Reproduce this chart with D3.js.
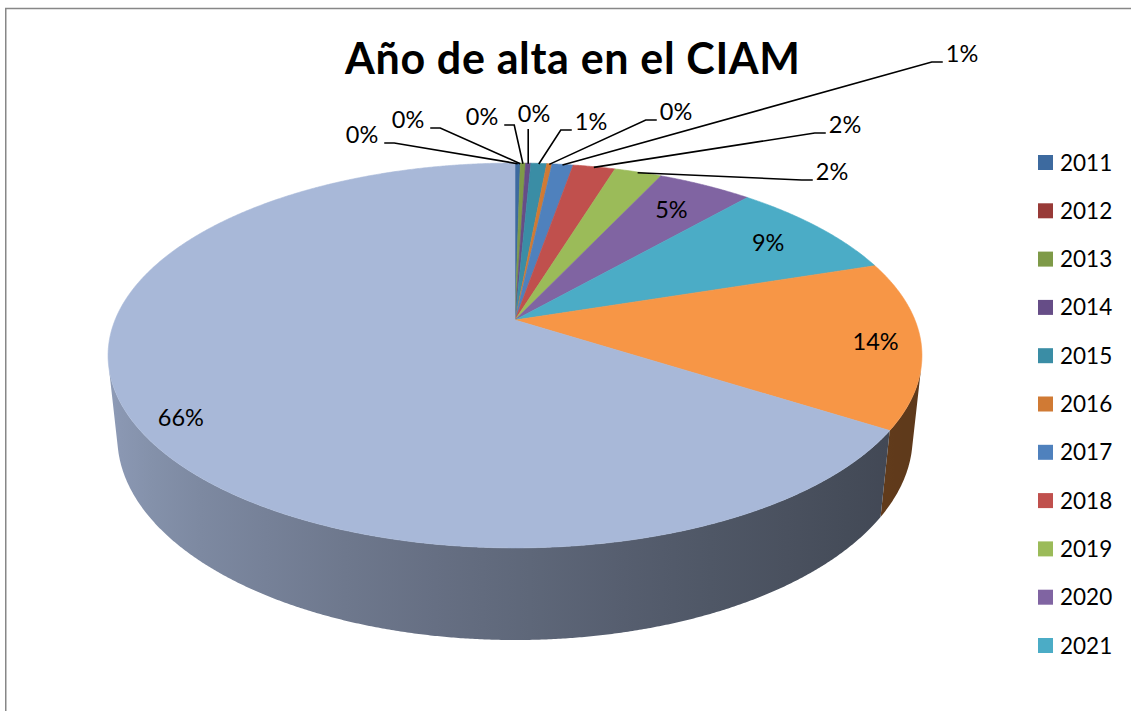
<!DOCTYPE html>
<html>
<head>
<meta charset="utf-8">
<script src="https://cdnjs.cloudflare.com/ajax/libs/d3/7.8.5/d3.min.js"></script>
<style>
  body { margin: 0; background: #fff; }
  svg { display: block; font-family: Lato, "Open Sans", sans-serif; }
</style>
</head>
<body>
<svg id="chart" width="1131" height="711"></svg>
<script>
// users by the year they signed up at the CIAM
var title = "Año de alta en el CIAM"
var years = ["2011", "2012", "2013", "2014", "2015", "2016", "2017",
             "2018", "2019", "2020", "2021", "2022", "2023"]
var counts = [1, 0, 1, 1, 3, 1, 4, 8, 9, 18, 34, 56, 264]
var colors = ["#3d6a9f", "#983a37", "#7e9a48", "#664d87", "#3a8da5", "#d07a34",
              "#4f81bd", "#c0504d", "#9bbb59", "#8064a2", "#4bacc6", "#f79646", "#a8b8d8"]
// excel ran out of room, only the first 11 years fit in the legend
var legendCount = 11

// where the labels go: callouts for the thin slices, radius for the big ones
var labelLayout = [
  {x: 362, y: 143, leader: "left"},
  {x: 408, y: 128, leader: "left"},
  {x: 482, y: 125, leader: "left"},
  {x: 534, y: 122, leader: "up"},
  {x: 591, y: 130, leader: "right"},
  {x: 676, y: 120, leader: "right"},
  {x: 962, y: 62, leader: "right"},
  {x: 845, y: 133, leader: "right"},
  {x: 832, y: 180, leader: "right"},
  {r: 0.80},
  {r: 0.82},
  {r: 0.89},
  {r: 0.90, da: -3.4}
]

// perspective camera, fitted by eye
var cx = 515, cy = 320, F = 1921, D = 4.803, thick = 0.2325
var S = 0.4648, C = Math.sqrt(1 - S * S)

function proj(a, r, h) {
  var x = r * Math.sin(a), z = -r * Math.cos(a), y = -h * thick
  var depth = D - y * S - z * C
  return [cx + F * x / depth, cy - F * (y * C - z * S) / depth]
}

function arcPts(a0, a1, r, h) {
  var n = Math.max(2, Math.ceil(Math.abs(a1 - a0) / 0.005)), pts = []
  for (var i = 0; i <= n; i++) pts.push(proj(a0 + (a1 - a0) * i / n, r, h))
  return pts
}

// side wall gets lighter to the left
function shade(a) {
  return 0.63 + 0.25 * Math.cos(a - 285 * Math.PI / 180)
}

var total = d3.sum(counts)
var arcs = d3.pie().sort(null).value(function(d) { return d })(counts)
var poly = d3.line().curve(d3.curveLinearClosed)

var svg = d3.select("#chart")
var defs = svg.append("defs")

// chart area border (right and bottom edges fall outside the picture)
svg.append("rect")
   .attr("x", 5.75).attr("y", 8.5)
   .attr("width", 1200).attr("height", 800)
   .attr("fill", "none")
   .attr("stroke", "#878787")
   .attr("stroke-width", 1.5)

svg.append("text")
   .attr("x", 572.5)
   .attr("y", 74)
   .attr("text-anchor", "middle")
   .attr("font-size", 43)
   .attr("font-weight", "bold")
   .attr("textLength", 455)
   .attr("lengthAdjust", "spacing")
   .text(title)

// outer wall is only seen between the two tangent lines from the camera
var w0 = Math.acos(-1 / (D * C)), w1 = 2 * Math.PI - w0

var walls = arcs.filter(function(d) {
  return Math.min(d.endAngle, w1) > Math.max(d.startAngle, w0)
})

walls.forEach(function(d) {
  var lo = Math.max(d.startAngle, w0), hi = Math.min(d.endAngle, w1)
  var xa = proj(lo, 1, 0)[0], xb = proj(hi, 1, 0)[0]
  var base = d3.rgb(colors[d.index])
  var grad = defs.append("linearGradient")
                 .attr("id", "wall" + d.index)
                 .attr("gradientUnits", "userSpaceOnUse")
                 .attr("x1", xa).attr("x2", xb)
                 .attr("y1", 0).attr("y2", 0)
  d3.range(13).forEach(function(k) {
    var a = lo + (hi - lo) * k / 12
    var f = shade(a)
    grad.append("stop")
        .attr("offset", (proj(a, 1, 0)[0] - xa) / (xb - xa))
        .attr("stop-color", d3.rgb(base.r * f, base.g * f, base.b * f))
  })
  d.wallLo = lo
  d.wallHi = hi
})

svg.append("g").selectAll("path")
   .data(walls)
   .enter()
   .append("path")
   .attr("d", function(d) {
     var top = arcPts(d.wallLo, d.wallHi, 1, 0)
     var bottom = arcPts(d.wallHi, d.wallLo, 1, 1)
     return poly(top.concat(bottom))
   })
   .attr("fill", function(d) { return "url(#wall" + d.index + ")" })

svg.append("g").selectAll("path")
   .data(arcs.filter(function(d) { return d.endAngle > d.startAngle }))
   .enter()
   .append("path")
   .attr("d", function(d) {
     return poly([[cx, cy]].concat(arcPts(d.startAngle, d.endAngle, 1, 0)))
   })
   .attr("fill", function(d) { return colors[d.index] })
   .attr("stroke", function(d) { return colors[d.index] })
   .attr("stroke-width", 0.6)
   .attr("stroke-linejoin", "round")

// data labels
var labels = svg.append("g").attr("font-size", 23.5).attr("fill", "#000")
var leaders = svg.append("g")
                 .attr("fill", "none")
                 .attr("stroke", "#000")
                 .attr("stroke-width", 1.6)

arcs.forEach(function(d) {
  var lay = labelLayout[d.index]
  var pct = Math.round(d.data * 100 / total) + "%"
  var mid = (d.startAngle + d.endAngle) / 2
  if (lay.r) {
    var p = proj(mid + (lay.da || 0) * Math.PI / 180, lay.r, 0)
    labels.append("text")
          .attr("x", p[0]).attr("y", p[1] + 8.5)
          .attr("text-anchor", "middle")
          .text(pct)
    return
  }
  var t = labels.append("text")
                .attr("x", lay.x).attr("y", lay.y)
                .attr("text-anchor", "middle")
                .text(pct)
  var w = t.node().getComputedTextLength()
  var target = proj(mid, 0.995, 0)
  var pts
  if (lay.leader == "left") {
    var h0 = lay.x + w / 2 + 6
    pts = [[h0, lay.y], [h0 + 10, lay.y], target]
  } else if (lay.leader == "right") {
    var h1 = lay.x - w / 2 - 3
    pts = [[h1, lay.y], [h1 - 11, lay.y], target]
  } else {
    pts = [[target[0], lay.y + 7], target]
  }
  leaders.append("path").attr("d", d3.line()(pts))
})

// legend
var legendYears = years.slice(0, legendCount)
var ly = d3.scalePoint().domain(legendYears).range([162.5, 645.5])

var items = svg.append("g").selectAll("g")
               .data(legendYears)
               .enter()
               .append("g")
               .attr("transform", function(d) { return "translate(1038," + ly(d) + ")" })
items.append("rect")
     .attr("x", 0).attr("y", -7.5)
     .attr("width", 15).attr("height", 15)
     .attr("fill", function(d, i) { return colors[i] })
items.append("text")
     .attr("x", 22).attr("y", 8)
     .attr("font-size", 22.5)
     .attr("fill", "#000")
     .text(function(d) { return d })
</script>
</body>
</html>
